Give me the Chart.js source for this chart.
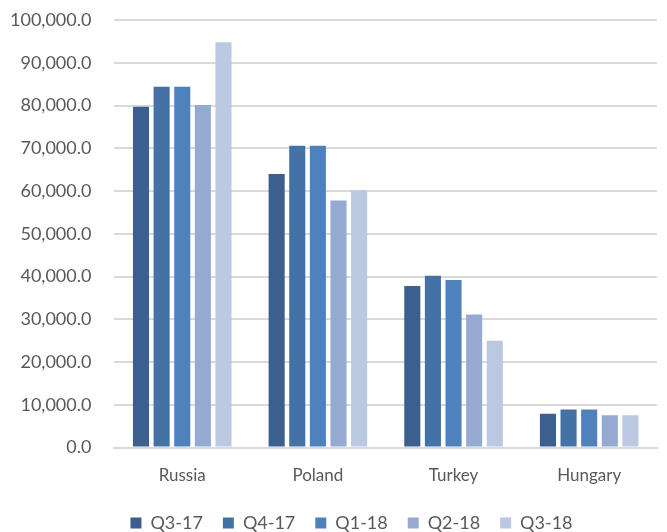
<!DOCTYPE html>
<html>
<head>
<meta charset="utf-8">
<script src="https://cdn.jsdelivr.net/npm/chart.js@4/dist/chart.umd.min.js"></script>
<style>
  html, body { margin: 0; padding: 0; background: #ffffff; }
  #wrap { width: 667px; height: 532px; position: relative; }
</style>
</head>
<body>
<div id="wrap"><canvas id="c"></canvas></div>
<script>
// Countries on the category axis
const countries = ['Russia', 'Poland', 'Turkey', 'Hungary'];

// Quarterly values per country
const q3_17 = [79700, 64000, 37800, 7900];
const q4_17 = [84400, 70600, 40200, 8900];
const q1_18 = [84400, 70600, 39200, 8900];
const q2_18 = [80100, 57800, 31100, 7550];
const q3_18 = [94800, 60200, 25000, 7550];

const quarterLabels = ['Q3-17', 'Q4-17', 'Q1-18', 'Q2-18', 'Q3-18'];
const quarterValues = [q3_17, q4_17, q1_18, q2_18, q3_18];
const quarterColors = ['#3b5f8e', '#4472a7', '#4f81bd', '#95aad1', '#bbc8e1'];

// Y axis range and step
const yMin = 0;
const yMax = 100000;
const yStep = 10000;

const textColor = '#595959';
const gridColor = '#d9d9d9';

const fmt = new Intl.NumberFormat('en-US', { minimumFractionDigits: 1, maximumFractionDigits: 1 });

// Nudge the legend row: a little right of centre and closer to the axis labels
const legendNudge = {
  id: 'legendNudge',
  afterLayout(chart) {
    const lg = chart.legend;
    if (!lg) return;
    lg.left += 19; lg.right += 19;
    lg.top -= 10; lg.bottom -= 10;
  }
};

new Chart(document.getElementById('c'), {
  type: 'bar',
  data: {
    labels: countries,
    datasets: quarterLabels.map((q, i) => ({
      label: q,
      data: quarterValues[i],
      backgroundColor: quarterColors[i],
      borderWidth: 0,
      categoryPercentage: 0.76,
      barPercentage: 0.78
    }))
  },
  plugins: [legendNudge],
  options: {
    responsive: true,
    maintainAspectRatio: false,
    animation: false,
    layout: { padding: { top: 20, right: 10, left: 8, bottom: -20 } },
    plugins: {
      legend: {
        position: 'bottom',
        labels: {
          color: textColor,
          font: { family: 'Lato', size: 18 },
          boxWidth: 11,
          boxHeight: 11,
          padding: 20
        }
      },
      tooltip: { enabled: false }
    },
    scales: {
      x: {
        grid: { display: false, drawTicks: false },
        border: { display: true, color: gridColor, width: 2 },
        ticks: { color: textColor, font: { family: 'Lato', size: 17 }, padding: 18 }
      },
      y: {
        min: yMin,
        max: yMax,
        // invisible tick marks keep a gap between the labels and the grid
        grid: { color: gridColor, lineWidth: 2, drawTicks: true, tickLength: 21, tickColor: 'rgba(0,0,0,0)' },
        border: { display: false },
        ticks: {
          stepSize: yStep,
          color: textColor,
          font: { family: 'Lato', size: 18 },
          padding: 2,
          callback: v => fmt.format(v)
        }
      }
    }
  }
});
</script>
</body>
</html>
